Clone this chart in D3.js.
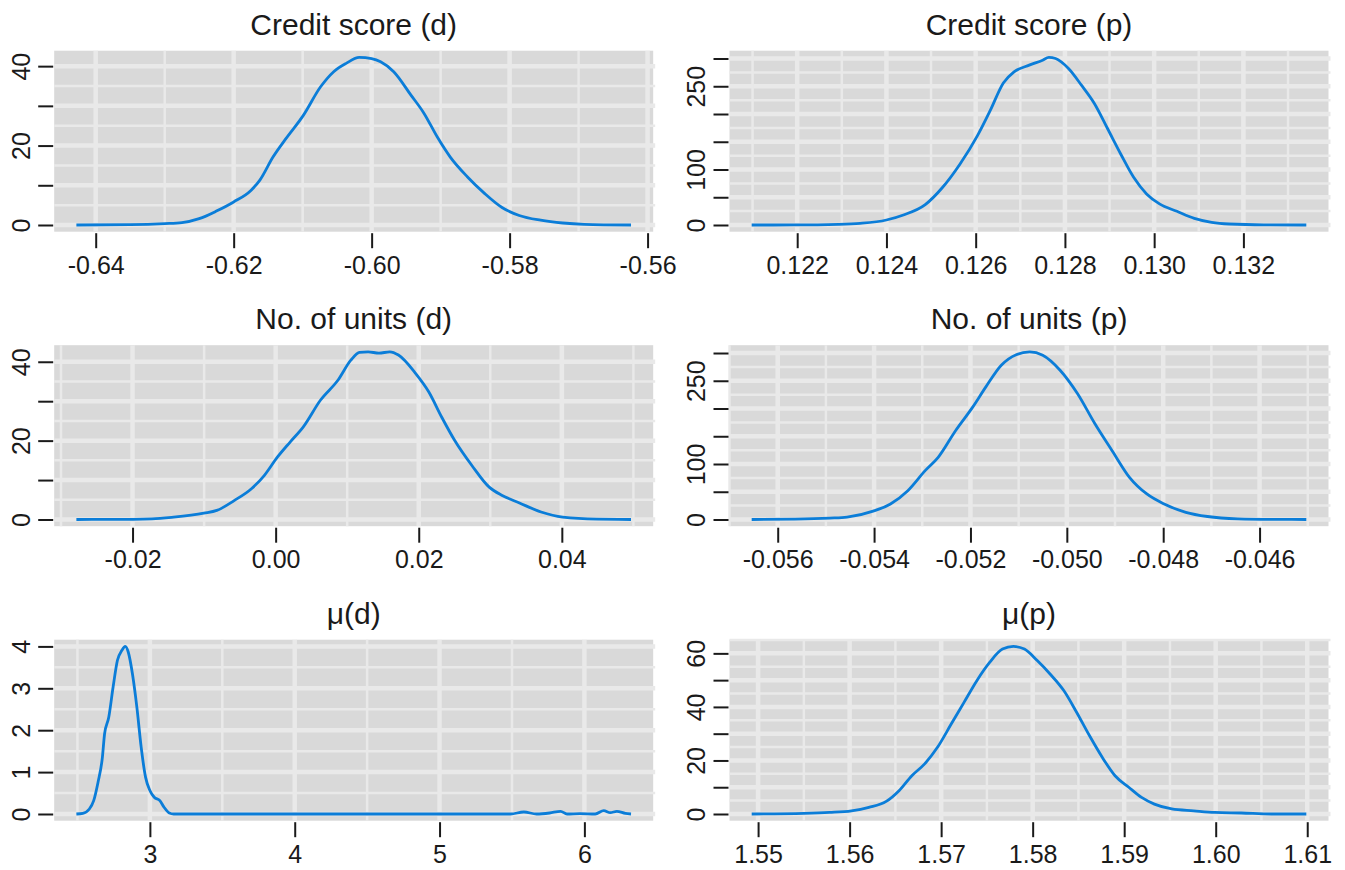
<!DOCTYPE html>
<html><head><meta charset="utf-8">
<script src="https://cdn.jsdelivr.net/npm/d3@7"></script>
<style>
html,body{margin:0;padding:0;background:#fff;}
svg{display:block;font-family:"Liberation Sans",Arial,Helvetica,sans-serif;}
</style></head><body>
<svg id="chart" width="1345" height="870"></svg>
<script>
// ---------- DATA ----------
const titles = ["Credit score (d)", "Credit score (p)", "No. of units (d)", "No. of units (p)", "\u03bc(d)", "\u03bc(p)"];

// Credit score (d)
const creditD_x = [-0.6428,-0.635,-0.630,-0.6275,-0.625,-0.6225,-0.620,-0.6175,-0.6162,-0.6143,-0.6124,-0.6099,-0.6074,-0.6055,-0.6037,-0.6018,-0.6000,-0.5987,-0.5968,-0.5943,-0.5924,-0.5905,-0.5886,-0.5861,-0.5836,-0.5811,-0.5786,-0.5755,-0.5723,-0.5692,-0.5624];
const creditD_y = [0,0.08,0.34,0.6,1.6,3.5,5.8,8.7,11.3,17.1,21.8,27.6,34.8,38.6,40.7,42.2,41.9,41.1,38.6,32.7,28.1,22.2,17.1,12.1,7.9,4.4,2.4,1.2,0.5,0.17,0];

// Credit score (p)
const creditP_x = [0.12098,0.12195,0.12292,0.12341,0.1240,0.12438,0.12487,0.12526,0.12565,0.12604,0.12633,0.12662,0.12686,0.1272,0.1275,0.12764,0.12779,0.12808,0.12837,0.12866,0.12896,0.12925,0.12954,0.12983,0.13012,0.13051,0.1309,0.13129,0.13168,0.13246,0.13341];
const creditP_y = [0,0.1,1.2,3,9,18,36.7,68,110,161,207,256,276,288,297,302,300,282,252,219,173,128,86,56,38,24.7,12,4.8,1.8,0.2,0];

// No. of units (d)
const unitsD_x = [-0.02785,-0.02332,-0.01728,-0.01426,-0.01003,-0.00822,-0.0058,-0.00338,-0.00157,0.00024,0.00205,0.00387,0.00628,0.0087,0.01051,0.01172,0.01293,0.01444,0.01595,0.01716,0.01958,0.02139,0.0232,0.02501,0.02743,0.02985,0.03166,0.03408,0.0371,0.04012,0.04495,0.04967];
const unitsD_y = [0,0.02,0.17,0.6,1.6,2.3,4.8,7.8,11.2,15.8,19.7,23.5,30.3,35.3,40.4,42.4,42.5,42.2,42.5,41.7,37,32.4,26,20.1,13.7,8.2,6.1,4.2,1.9,0.6,0.08,0];

// No. of units (p)
const unitsP_x = [-0.05654,-0.05564,-0.05492,-0.05456,-0.05402,-0.05366,-0.0533,-0.05294,-0.05267,-0.05231,-0.05195,-0.05168,-0.05136,-0.05105,-0.05077,-0.0505,-0.05014,-0.04978,-0.04942,-0.04906,-0.0487,-0.04834,-0.04798,-0.04753,-0.04708,-0.04645,-0.04573,-0.04503];
const unitsP_y = [0,0.6,2.4,4.2,15,28,52,88,112,160,203,239,278,297,302,296,269,227,173,124,76,46,28,13,5.4,1.2,0.2,0];

// mu (d)
const muD_x = [2.4925,2.537,2.582,2.612,2.642,2.672,2.687,2.716,2.746,2.776,2.806,2.83,2.851,2.881,2.910,2.94,2.97,3.0,3.03,3.069,3.098,3.134,3.164,5.49,5.582,5.67,5.76,5.836,5.88,5.97,6.075,6.134,6.179,6.224,6.283,6.322];
const muD_y = [0,0.016,0.12,0.32,0.76,1.35,1.91,2.31,3.03,3.67,3.9,4.0,3.86,3.31,2.55,1.59,0.88,0.56,0.4,0.32,0.16,0.024,0,0,0.048,0,0.024,0.064,0,0.008,0,0.08,0.032,0.064,0.016,0];

// mu (p)
const muP_x = [1.5493,1.555,1.5578,1.5602,1.5621,1.564,1.5654,1.5668,1.5682,1.5696,1.5711,1.5725,1.5739,1.5753,1.5767,1.5779,1.5791,1.5805,1.5819,1.5834,1.5848,1.5862,1.5876,1.589,1.5905,1.5919,1.5933,1.5952,1.5976,1.5999,1.6028,1.6061,1.6099];
const muP_y = [0,0.25,0.6,1.2,2.5,4.7,8.7,14.3,18.7,24.9,33.6,41.7,49.8,56.6,61.6,62.6,61.6,57.3,52.3,46.1,38,29.3,21.2,14.3,10,6.2,3.7,1.9,1.2,0.6,0.37,0,0];

// Tick values and labels
const creditD_xticks = [-0.64,-0.62,-0.60,-0.58,-0.56];
const creditD_xlabels = ["-0.64","-0.62","-0.60","-0.58","-0.56"];
const creditP_xticks = [0.122,0.124,0.126,0.128,0.130,0.132];
const creditP_xlabels = ["0.122","0.124","0.126","0.128","0.130","0.132"];
const unitsD_xticks = [-0.02,0.00,0.02,0.04];
const unitsD_xlabels = ["-0.02","0.00","0.02","0.04"];
const unitsP_xticks = [-0.056,-0.054,-0.052,-0.050,-0.048,-0.046];
const unitsP_xlabels = ["-0.056","-0.054","-0.052","-0.050","-0.048","-0.046"];
const muD_xticks = [3,4,5,6];
const muD_xlabels = ["3","4","5","6"];
const muP_xticks = [1.55,1.56,1.57,1.58,1.59,1.60,1.61];
const muP_xlabels = ["1.55","1.56","1.57","1.58","1.59","1.60","1.61"];

const y40_ticks = [0,10,20,30,40];
const y40_labels = ["0","","20","","40"];
const y300_ticks = [0,50,100,150,200,250,300];
const y300_labels = ["0","","100","","","250",""];
const y4_ticks = [0,1,2,3,4];
const y4_labels = ["0","1","2","3","4"];
const y60_ticks = [0,10,20,30,40,50,60];
const y60_labels = ["0","","20","","40","","60"];

// ---------- LAYOUT ----------
const colLeft = [54.2, 729.5];
const plotW = 599;
const rowTop = [50.7, 345.2, 639.7];
const plotH = 181;

const panels = [
  {t:titles[0], xs:creditD_x, ys:creditD_y, xt:creditD_xticks, xl:creditD_xlabels, yt:y40_ticks, yl:y40_labels},
  {t:titles[1], xs:creditP_x, ys:creditP_y, xt:creditP_xticks, xl:creditP_xlabels, yt:y300_ticks, yl:y300_labels},
  {t:titles[2], xs:unitsD_x, ys:unitsD_y, xt:unitsD_xticks, xl:unitsD_xlabels, yt:y40_ticks, yl:y40_labels},
  {t:titles[3], xs:unitsP_x, ys:unitsP_y, xt:unitsP_xticks, xl:unitsP_xlabels, yt:y300_ticks, yl:y300_labels},
  {t:titles[4], xs:muD_x, ys:muD_y, xt:muD_xticks, xl:muD_xlabels, yt:y4_ticks, yl:y4_labels},
  {t:titles[5], xs:muP_x, ys:muP_y, xt:muP_xticks, xl:muP_xlabels, yt:y60_ticks, yl:y60_labels}
];

const svg = d3.select("#chart");
const BG = "#d9d9d9", GRID = "#e9e9e9", LINE = "#0b7dd8", INK = "#1a1a1a";

function extend(ext){ const r = ext[1]-ext[0]; return [ext[0]-0.04*r, ext[1]+0.04*r]; }
function gridVals(ticks, dom){
  const step = (ticks[1]-ticks[0])/2;
  const out = [];
  const lo = ticks[0]-step, hi = ticks[ticks.length-1]+step;
  for (let k=0; ; k++){
    const v = lo + k*step;
    if (v > hi + step*1e-6) break;
    if (v >= dom[0] && v <= dom[1]) out.push({v:v, major: k%2===1});
  }
  return out;
}

panels.forEach((p,i)=>{
  const L = colLeft[i%2], T = rowTop[Math.floor(i/2)];
  const R = L+plotW, B = T+plotH;
  const x = d3.scaleLinear().domain(extend(d3.extent(p.xs))).range([L,R]);
  const y = d3.scaleLinear().domain(extend([Math.min(0,d3.min(p.ys)), d3.max(p.ys)])).range([B,T]);
  const g = svg.append("g");

  g.append("rect").attr("x",L).attr("y",T).attr("width",plotW).attr("height",plotH).attr("fill",BG);

  const gx = gridVals(p.xt, x.domain());
  const gy = gridVals(p.yt, y.domain());
  g.selectAll(".gh").data(gy).join("line")
    .attr("x1",L).attr("x2",R+2).attr("y1",d=>y(d.v)).attr("y2",d=>y(d.v))
    .attr("stroke",GRID).attr("stroke-width",d=>d.major?4.5:2.5);
  g.selectAll(".gv").data(gx).join("line")
    .attr("y1",T).attr("y2",B).attr("x1",d=>x(d.v)).attr("x2",d=>x(d.v))
    .attr("stroke",GRID).attr("stroke-width",d=>d.major?4.5:2.5);

  const line = d3.line().x((d,k)=>x(p.xs[k])).y(d=>y(d)).curve(d3.curveMonotoneX);
  g.append("path").attr("d",line(p.ys)).attr("fill","none").attr("stroke",LINE).attr("stroke-width",2.8).attr("stroke-linejoin","round");

  // x axis
  const ax = g.append("g").attr("transform",`translate(0,${B+1.5})`)
    .call(d3.axisBottom(x).tickValues(p.xt).tickSize(15).tickPadding(8).tickFormat((d,k)=>p.xl[k]));
  ax.select(".domain").remove();
  ax.selectAll("line").attr("stroke",INK).attr("stroke-width",2);
  ax.selectAll("text").attr("fill",INK).style("font-size","25px").attr("font-family",null);

  // y axis
  const ay = g.append("g").attr("transform",`translate(${L-1},0)`)
    .call(d3.axisLeft(y).tickValues(p.yt).tickSize(15).tickFormat((d,k)=>p.yl[k]));
  ay.select(".domain").remove();
  ay.selectAll("line").attr("stroke",INK).attr("stroke-width",2);
  ay.selectAll("text").attr("fill",INK).style("font-size","25px").attr("font-family",null)
    .attr("x",null).attr("y",null).attr("dy",null).attr("text-anchor","middle")
    .attr("transform","translate(-23.5,0) rotate(-90)");

  g.append("text").attr("x",(L+R)/2).attr("y",T-16).attr("text-anchor","middle")
    .attr("fill",INK).style("font-size","30px").text(p.t);
});
</script></body></html>
